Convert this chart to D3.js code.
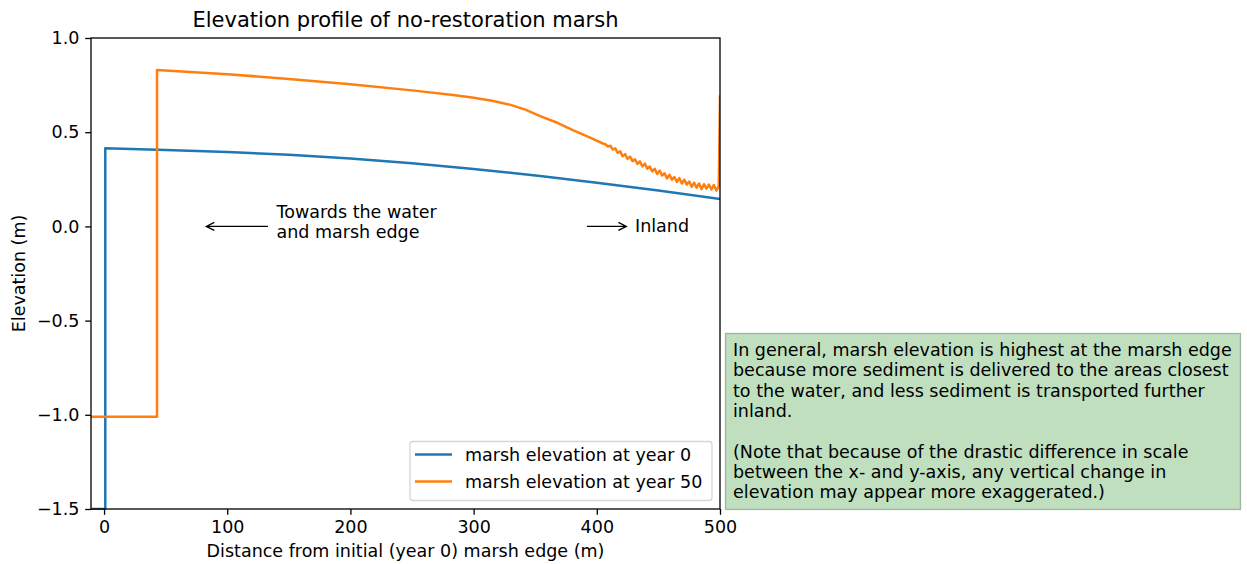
<!DOCTYPE html>
<html>
<head>
<meta charset="utf-8">
<title>Elevation profile of no-restoration marsh</title>
<script src="https://cdn.jsdelivr.net/npm/d3@7"></script>
<style>
  body { margin: 0; background: #fff; }
  svg text { font-family: "DejaVu Sans", sans-serif; fill: #000; }
</style>
</head>
<body>
<svg id="chart" width="1247" height="564"></svg>
<script>
// distance from initial marsh edge (m) and elevation (m)
const year0X = [-20, 1, 1, 50, 100, 150, 200, 250, 300, 354, 400, 450, 500];
const year0Y = [-1.5, -1.5, 0.415, 0.406, 0.395, 0.38, 0.36, 0.335, 0.305, 0.268, 0.232, 0.19, 0.145];

const year50X = [-20, 43, 43, 100, 150, 200, 250, 285, 300, 315, 330, 342, 354, 368, 381, 395, 405,
  407, 409, 411, 413, 415, 417, 419, 421, 423, 425, 427, 429, 431, 433, 435, 437, 439,
  441, 443, 445, 447, 449, 451, 453, 455, 457, 459, 461, 463, 465, 467, 469, 471, 473,
  475, 477, 479, 481, 483, 485, 487, 489, 491, 493, 495, 497, 499, 500];
const year50Y = [-1.01, -1.01, 0.83, 0.808, 0.783, 0.755, 0.722, 0.696, 0.683, 0.667, 0.645, 0.62, 0.585, 0.55, 0.51, 0.47, 0.44,
  0.436, 0.424, 0.428, 0.408, 0.414, 0.39, 0.398, 0.372, 0.384, 0.358, 0.37, 0.346, 0.356, 0.332, 0.345, 0.318, 0.334,
  0.306, 0.318, 0.292, 0.306, 0.278, 0.296, 0.27, 0.282, 0.255, 0.274, 0.248, 0.262, 0.236, 0.256, 0.228, 0.248, 0.222,
  0.238, 0.21, 0.232, 0.206, 0.228, 0.198, 0.224, 0.2, 0.222, 0.196, 0.22, 0.19, 0.212, 0.69];

const seriesNames = ["marsh elevation at year 0", "marsh elevation at year 50"];
const seriesColors = ["#1f77b4", "#ff7f0e"];

const xTicks = [0, 100, 200, 300, 400, 500];
const yTicks = [-1.5, -1.0, -0.5, 0.0, 0.5, 1.0];

// annotations: text x, arrow tail x, arrow head x (all at elevation 0)
const waterNote = { lines: ["Towards the water", "and marsh edge"], x: 140, tail: 133, head: 83 };
const inlandNote = { lines: ["Inland"], x: 431, tail: 392, head: 424 };

const boxLines = [
  "In general, marsh elevation is highest at the marsh edge",
  "because more sediment is delivered to the areas closest",
  "to the water, and less sediment is transported further",
  "inland.",
  "",
  "(Note that because of the drastic difference in scale",
  "between the x- and y-axis, any vertical change in",
  "elevation may appear more exaggerated.)"
];

const margin = { top: 38, left: 91, right: 720, bottom: 509 };
const fs = 17.5;

const svg = d3.select('#chart');

const x = d3.scaleLinear().domain([-10.6, 500]).range([margin.left, margin.right]);
const y = d3.scaleLinear().domain([-1.5, 1.0]).range([margin.bottom, margin.top]);

svg.append('defs').append('clipPath').attr('id', 'plot-clip')
  .append('rect')
  .attr('x', margin.left).attr('y', margin.top - 1)
  .attr('width', margin.right - margin.left).attr('height', margin.bottom - margin.top + 2);

// lines
const line = d3.line().x(d => x(d[0])).y(d => y(d[1]));
const series = [d3.zip(year0X, year0Y), d3.zip(year50X, year50Y)];

svg.append('g').attr('clip-path', 'url(#plot-clip)')
  .selectAll('path')
  .data(series)
  .join('path')
  .attr('d', line)
  .attr('fill', 'none')
  .attr('stroke', (d, i) => seriesColors[i])
  .attr('stroke-width', 2.5)
  .attr('stroke-linejoin', 'round')
  .attr('stroke-linecap', 'square');

// axes
const xAxis = svg.append('g')
  .attr('transform', `translate(0,${margin.bottom})`)
  .call(d3.axisBottom(x).tickValues(xTicks).tickSize(5.8).tickPadding(5.8).tickFormat(d3.format('d')));
const yAxis = svg.append('g')
  .attr('transform', `translate(${margin.left},0)`)
  .call(d3.axisLeft(y).tickValues(yTicks).tickSize(5.8).tickPadding(5.8).tickFormat(d3.format('.1f')));

[xAxis, yAxis].forEach(a => {
  a.select('.domain').remove();
  a.selectAll('.tick line').attr('stroke', '#000').attr('stroke-width', 1.3);
  a.selectAll('.tick text').style('font-size', fs + 'px').attr('fill', '#000');
});

// frame
svg.append('rect')
  .attr('x', margin.left).attr('y', margin.top)
  .attr('width', margin.right - margin.left).attr('height', margin.bottom - margin.top)
  .attr('fill', 'none').attr('stroke', '#000').attr('stroke-width', 1.3);

// titles
svg.append('text')
  .attr('x', (margin.left + margin.right) / 2).attr('y', 27)
  .attr('text-anchor', 'middle').style('font-size', '21px')
  .text('Elevation profile of no-restoration marsh');

svg.append('text')
  .attr('x', (margin.left + margin.right) / 2).attr('y', 557)
  .attr('text-anchor', 'middle').style('font-size', fs + 'px')
  .text('Distance from initial (year 0) marsh edge (m)');

svg.append('text')
  .attr('transform', `translate(25,${(margin.top + margin.bottom) / 2}) rotate(-90)`)
  .attr('text-anchor', 'middle').style('font-size', fs + 'px')
  .text('Elevation (m)');

// annotations
function arrow(tail, head) {
  const y0 = y(0), x0 = x(tail), x1 = x(head);
  const dir = Math.sign(x1 - x0);
  svg.append('path')
    .attr('d', `M${x0},${y0}L${x1},${y0}M${x1 - dir * 8},${y0 - 4}L${x1},${y0}L${x1 - dir * 8},${y0 + 4}`)
    .attr('fill', 'none').attr('stroke', '#000').attr('stroke-width', 1.3);
}
arrow(waterNote.tail, waterNote.head);
arrow(inlandNote.tail, inlandNote.head);

svg.append('text')
  .attr('x', x(waterNote.x)).attr('y', 218)
  .style('font-size', fs + 'px')
  .selectAll('tspan').data(waterNote.lines).join('tspan')
  .attr('x', x(waterNote.x)).attr('dy', (d, i) => i === 0 ? 0 : 20)
  .text(d => d);

svg.append('text')
  .attr('x', x(inlandNote.x)).attr('y', y(0) + 6)
  .style('font-size', fs + 'px')
  .text(inlandNote.lines[0]);

// legend
const legend = svg.append('g');
legend.append('rect')
  .attr('x', 410).attr('y', 441.5).attr('width', 302).attr('height', 59).attr('rx', 3)
  .attr('fill', 'rgba(255,255,255,0.8)').attr('stroke', '#d6d6d6').attr('stroke-width', 1.3);
seriesNames.forEach((name, i) => {
  const ly = 454.5 + i * 27;
  legend.append('line')
    .attr('x1', 415).attr('x2', 452).attr('y1', ly).attr('y2', ly)
    .attr('stroke', seriesColors[i]).attr('stroke-width', 2.5);
  legend.append('text')
    .attr('x', 465).attr('y', ly + 6)
    .style('font-size', fs + 'px')
    .text(name);
});

// explanation box
svg.append('rect')
  .attr('x', 725.5).attr('y', 333.5).attr('width', 515).attr('height', 176)
  .attr('fill', 'rgb(191,223,191)').attr('stroke', 'rgba(110,130,110,0.55)').attr('stroke-width', 1.3);
svg.append('text')
  .style('font-size', fs + 'px')
  .selectAll('tspan').data(boxLines).join('tspan')
  .attr('x', 733).attr('y', (d, i) => 356 + i * 20.3)
  .text(d => d);
</script>
</body>
</html>
